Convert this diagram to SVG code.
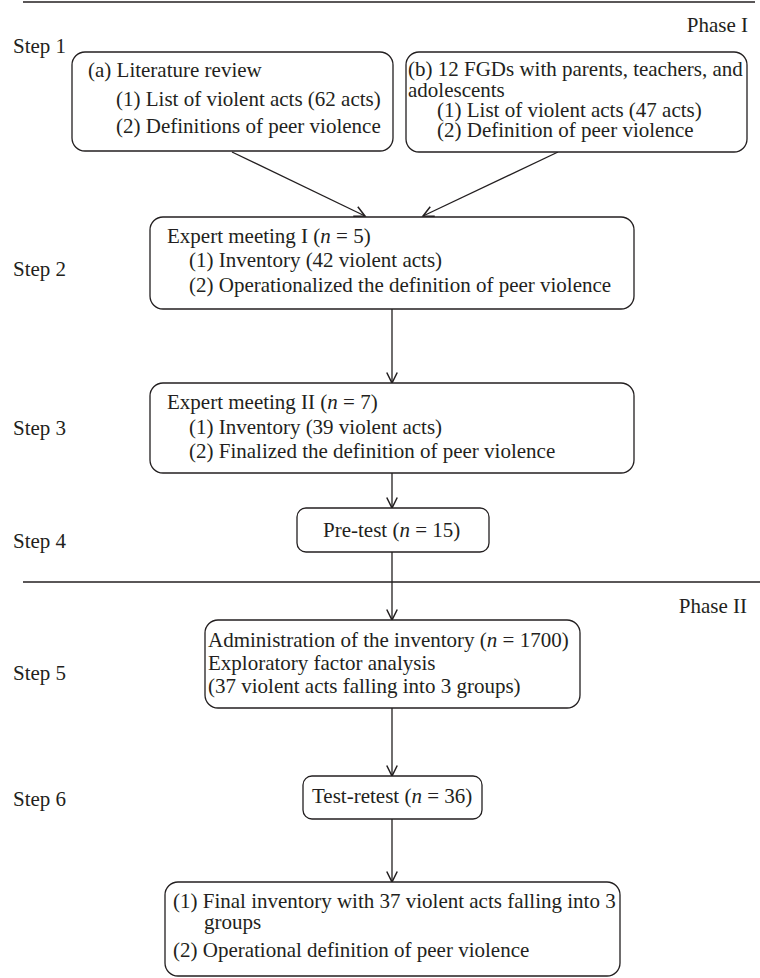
<svg xmlns="http://www.w3.org/2000/svg" width="760" height="978" viewBox="0 0 760 978">
<style>
text{font-family:"Liberation Serif","Times New Roman",serif;font-size:21px;fill:#231f20}
.i{font-style:italic}
.box{fill:#fff;stroke:#231f20;stroke-width:1.3}
.rule{stroke:#231f20;stroke-width:1.4}
.conn{stroke:#231f20;stroke-width:1.3;fill:none;marker-end:url(#ah)}
</style>
<defs>
<marker id="ah" markerUnits="userSpaceOnUse" markerWidth="14" markerHeight="14" refX="10" refY="5" orient="auto" viewBox="0 0 12 10">
<path d="M1,0.5 L10,5 L1,9.5" fill="none" stroke="#231f20" stroke-width="1.3"/>
</marker>
</defs>
<g id="phases">
<line class="rule" x1="23" y1="2" x2="755" y2="2"/>
<line class="rule" x1="23" y1="582" x2="760" y2="582"/>
<text x="748" y="32" text-anchor="end">Phase I</text>
<text x="747" y="613" text-anchor="end">Phase II</text>
</g>
<g id="steps">
<text x="13" y="53">Step 1</text>
<text x="13" y="276">Step 2</text>
<text x="13" y="435">Step 3</text>
<text x="13" y="548">Step 4</text>
<text x="13" y="680">Step 5</text>
<text x="13" y="806">Step 6</text>
</g>
<g id="connectors">
<line class="conn" x1="232" y1="152" x2="365" y2="216"/>
<line class="conn" x1="558" y1="152" x2="423" y2="216"/>
<line class="conn" x1="392" y1="309" x2="392" y2="383"/>
<line class="conn" x1="392" y1="473" x2="392" y2="508"/>
<line class="conn" x1="392" y1="552" x2="392" y2="620"/>
<line class="conn" x1="392" y1="708" x2="392" y2="776"/>
<line class="conn" x1="392" y1="819" x2="392" y2="882"/>
</g>
<g id="node-a">
<rect class="box" x="72" y="52" width="321" height="99" rx="13"/>
<text x="88" y="77">(a) Literature review</text>
<text x="116" y="106">(1) List of violent acts (62 acts)</text>
<text x="116" y="133">(2) Definitions of peer violence</text>
</g>
<g id="node-b">
<rect class="box" x="406" y="52" width="341" height="100" rx="13"/>
<text x="408" y="76">(b) 12 FGDs with parents, teachers, and</text>
<text x="408" y="97">adolescents</text>
<text x="437" y="117">(1) List of violent acts (47 acts)</text>
<text x="437" y="137">(2) Definition of peer violence</text>
</g>
<g id="node-expert1">
<rect class="box" x="150" y="217" width="484" height="92" rx="13"/>
<text x="167" y="243">Expert meeting I (<tspan class="i">n</tspan> = 5)</text>
<text x="189" y="267">(1) Inventory (42 violent acts)</text>
<text x="189" y="292">(2) Operationalized the definition of peer violence</text>
</g>
<g id="node-expert2">
<rect class="box" x="150" y="383" width="484" height="90" rx="13"/>
<text x="167" y="409">Expert meeting II (<tspan class="i">n</tspan> = 7)</text>
<text x="189" y="434">(1) Inventory (39 violent acts)</text>
<text x="189" y="458">(2) Finalized the definition of peer violence</text>
</g>
<g id="node-pretest">
<rect class="box" x="297" y="508" width="192" height="44" rx="9"/>
<text x="323" y="537">Pre-test (<tspan class="i">n</tspan> = 15)</text>
</g>
<g id="node-admin">
<rect class="box" x="205" y="620" width="375" height="88" rx="13"/>
<text x="208" y="647">Administration of the inventory (<tspan class="i">n</tspan> = 1700)</text>
<text x="208" y="670">Exploratory factor analysis</text>
<text x="208" y="693">(37 violent acts falling into 3 groups)</text>
</g>
<g id="node-retest">
<rect class="box" x="303" y="776" width="179" height="43" rx="9"/>
<text x="312" y="803">Test-retest (<tspan class="i">n</tspan> = 36)</text>
</g>
<g id="node-final">
<rect class="box" x="165" y="882" width="455" height="94" rx="13"/>
<text x="173" y="908">(1) Final inventory with 37 violent acts falling into 3</text>
<text x="204" y="929">groups</text>
<text x="173" y="957">(2) Operational definition of peer violence</text>
</g>
</svg>
